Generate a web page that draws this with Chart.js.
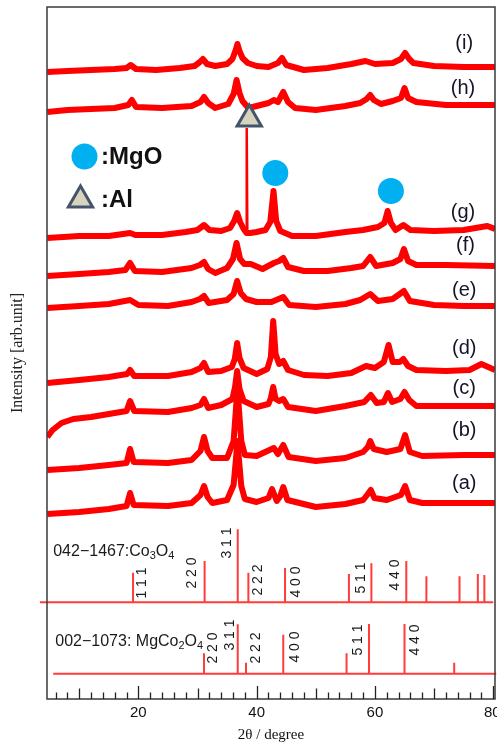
<!DOCTYPE html>
<html><head><meta charset="utf-8">
<script src="https://cdn.jsdelivr.net/npm/chart.js@4/dist/chart.umd.min.js"></script>
<style>html,body{margin:0;padding:0;background:#fff;overflow:hidden}#wrap{width:497px;height:743px;position:relative}</style>
</head><body><div id="wrap"><canvas id="c"></canvas></div>
<script>
// ---------- DATA (2θ in degrees, intensity in arb. units incl. stacking offset) ----------
const traceNames = ['(a)','(b)','(c)','(d)','(e)','(f)','(g)','(h)','(i)'];
const traceA = [[4.6,185],[10,187],[15,190],[18.0,193],[18.6,206],[19.2,194],[25,193],[29,196],[30.5,204],[31.1,213],[31.7,202],[32.5,196],[35,199],[36.1,214],[36.5,240],[36.75,258],[37.0,240],[37.4,213],[38,200],[40,197],[42.0,201],[42.6,210],[43.4,198],[44.0,203],[44.5,212],[45.2,199],[50,192],[55,195],[58,199],[58.8,205],[59.3,209],[59.9,201],[62,199],[64.4,204],[65.1,213],[65.9,199],[68,196],[75,196],[80.3,196]];
const traceB = [[4.6,229],[10,231],[15,234],[18.0,236],[18.6,250],[19.2,237],[25,236],[29,239],[30.5,248],[31.1,262],[31.7,248],[32.5,241],[35,241],[36.1,258],[36.5,290],[36.75,314],[37.0,290],[37.4,258],[38,244],[40,243],[42.9,251],[43.6,245],[44.5,254],[45.4,242],[50,238],[55,241],[58,247],[58.8,252],[59.2,258],[59.8,250],[62,247],[64.3,250],[65.1,264],[65.9,247],[68,243],[75,244],[80.3,244]];
const traceC = [[4.6,262],[5.5,269],[7,276],[9,280],[12,282],[16,286],[18.0,288],[18.6,298],[19.3,288],[25,287],[29,291],[30.5,294],[31.1,300],[31.8,291],[34,294],[35.9,300],[36.35,312],[36.7,328],[37.1,310],[37.8,298],[40,292],[42,295],[42.4,301],[42.8,312],[43.2,300],[43.8,298],[44.5,300],[45.3,292],[50,288],[55,293],[58.2,297],[59.3,304],[60.3,296],[61.5,297],[62.2,306],[62.9,297],[64.3,300],[65.0,307],[65.8,299],[67,293],[72,293],[80.3,293]];
const traceD = [[4.6,316],[10,319],[15,322],[18.1,325],[18.6,329],[19.3,323],[25,323],[29,327],[30.5,331],[31.1,336],[31.8,327],[34,328],[35.8,332],[36.3,340],[36.7,356],[37.1,341],[37.8,331],[40,325],[41.8,330],[42.4,342],[42.8,378],[43.2,345],[43.8,335],[44.5,338],[45.3,329],[48,324],[52,323],[56,326],[58.5,333],[60,331],[61.5,337],[62.3,354],[63.0,337],[64.2,337],[64.8,340],[65.6,333],[67,329],[72,328],[76,329],[78,335],[80.3,329]];
const traceE = [[4.6,391],[10,393],[15,395],[18.6,399],[20,394],[25,393],[29,397],[30.4,400],[31.1,403],[31.9,396],[35,399],[36.1,405],[36.7,418],[37.3,406],[38.2,400],[40,397],[42.5,397],[44.5,402],[45.5,394],[50,392],[55,395],[57.5,399],[59.2,405],[60.5,398],[63,400],[64.9,408],[65.9,398],[70,394],[75,393],[80.3,393]];
const traceF = [[4.6,423],[10,425],[15,427],[17.8,429],[18.6,436],[19.4,428],[24,427],[29,431],[30.4,434],[31.1,437],[31.8,430],[33,426],[35,431],[36.0,440],[36.6,456],[37.2,440],[37.9,435],[39,435],[41,430],[42.9,436],[43.8,438],[44.5,441],[45.3,432],[48,428],[52,428],[56,431],[58,433],[59.2,442],[60.2,433],[63,436],[64.3,440],[64.9,450],[65.6,438],[67,434],[72,434],[80.3,433]];
const traceG = [[4.6,461],[10,463],[15,463],[18.6,466],[19.5,464],[24,464],[28,467],[30,469],[31.1,474],[32,469],[34,468],[35.5,471],[36.2,478],[36.7,486],[37.2,477],[37.8,470],[38.3,466],[38.9,466],[40,467],[41.5,469],[42.3,477],[42.85,508],[43.3,478],[44,468],[46,463],[50,463],[55,467],[58,469],[60.5,472],[61.6,476],[62.15,488],[62.7,476],[63.5,469],[64.8,474],[66,469],[70,468],[75,469],[79,473],[80.3,470]];
const traceH = [[4.6,587],[8,589],[12,590],[16,591],[18.3,594],[18.9,599],[19.6,592],[24,591],[29,593],[30.5,597],[31.1,602],[31.8,596],[33,591],[35.2,595],[36.1,605],[36.6,619],[37.1,606],[37.6,598],[38.6,591],[40,593],[42,596],[42.9,599],[43.6,597],[44.5,607],[45.3,597],[46.5,591],[50,589],[55,593],[57.5,596],[58.6,600],[59.2,604],[59.8,599],[61,595],[63,598],[64.4,601],[65.0,611],[65.6,601],[67,597],[72,594],[80.3,594]];
const traceI = [[4.6,627],[8,628],[12,629],[16,630],[18.0,631],[18.7,634],[19.6,630],[23,629],[27,631],[29.5,633],[30.4,637],[30.9,640],[31.6,635],[33,633],[35,635],[35.9,640],[36.4,648],[36.75,655],[37.1,648],[37.6,641],[38.5,636],[40,633],[42,632],[43.6,636],[44.3,641],[45.0,634],[48,629],[52,631],[56,635],[58.4,638],[60,635],[63,636],[64.4,640],[65.1,646],[65.8,640],[66.5,636],[70,633],[75,632],[80.3,632]];
// Al reflection in trace (g)
const alPeakG = [[38.22,466],[38.32,571],[38.42,466]];

// Reference patterns
const co3o4Pos    = [19.1, 31.2, 36.8, 38.6, 44.8, 55.6, 59.4, 65.3, 68.7, 74.3, 77.4, 78.5];
const co3o4Int    = [29.6, 41.3, 73, 29.6, 34.4, 28.3, 39, 41.3, 26, 26, 28.3, 27.3];
const co3o4Base   = 96.7;
const co3o4Hkl    = ['1 1 1','2 2 0','3 1 1','2 2 2','4 0 0','5 1 1','4 4 0'];
const mgco2o4Pos  = [31.1, 36.8, 38.2, 44.5, 55.2, 59.0, 65.0, 73.4];
const mgco2o4Int  = [20.4, 49.4, 11, 39, 20.4, 49.7, 49.7, 11];
const mgco2o4Base = 25.3;
const mgco2o4Hkl  = ['2 2 0','3 1 1','2 2 2','4 0 0','5 1 1','4 4 0'];

// Phase markers
const mgoMarks = [[43.15,526],[62.7,508]];
const alMarks  = [[38.75,580]];

const xTicks = [20,40,60,80];

// ---------- annotation anchors (2θ, intensity) ----------
const traceLabelAt = [[75.1,216],[75.1,269],[75.1,311],[75.1,351],[75.1,409],[75.3,454],[74.9,487],[74.9,611],[75.1,656]];
const co3o4HklAt   = [[20.58,116],[29.09,126],[34.96,156],[40.25,119],[46.63,117],[57.68,121],[63.38,124]];
const mgHklAt      = [[32.64,51],[35.52,64],[39.92,51],[46.46,52],[57.17,59],[66.77,59]];

const toXY = arr => arr.map(p => ({x:p[0], y:p[1]}));
function sticks(pos, ints, base){
  const out = [];
  pos.forEach((p,i)=>{ out.push({x:p,y:base},{x:p,y:base+ints[i]},{x:p,y:null}); });
  return out;
}
const RED = '#ff0000';
const traces = [traceA,traceB,traceC,traceD,traceE,traceF,traceG,traceH,traceI];
const datasets = traces.map((t,i)=>({label:traceNames[i], data:toXY(t), borderColor:RED, borderWidth:6, pointRadius:0, tension:0, borderJoinStyle:'round', order:5}));
datasets.push({label:'Al (g)', data:toXY(alPeakG), borderColor:RED, borderWidth:2.5, pointRadius:0, order:5});
datasets.push({label:'Co3O4', data:sticks(co3o4Pos,co3o4Int,co3o4Base), borderColor:'#ff3b3b', borderWidth:2, pointRadius:0, spanGaps:false, order:4});
datasets.push({label:'Co3O4 base', data:[{x:3.35,y:co3o4Base},{x:80.0,y:co3o4Base}], borderColor:'#ff3b3b', borderWidth:2, pointRadius:0, clip:false, order:4});
datasets.push({label:'MgCo2O4', data:sticks(mgco2o4Pos,mgco2o4Int,mgco2o4Base), borderColor:'#ff3b3b', borderWidth:2, pointRadius:0, spanGaps:false, order:4});
datasets.push({label:'MgCo2O4 base', data:[{x:5.6,y:mgco2o4Base},{x:80.5,y:mgco2o4Base}], borderColor:'#ff3b3b', borderWidth:2, pointRadius:0, clip:false, order:4});
datasets.push({type:'scatter', label:'MgO', data:toXY(mgoMarks), showLine:false, pointStyle:'circle', pointRadius:13, backgroundColor:'#00b0f0', borderWidth:0, order:1, clip:false});
datasets.push({type:'scatter', label:'Al', data:toXY(alMarks), showLine:false, pointStyle:'triangle', pointRadius:14, backgroundColor:'#d8d3bf', borderColor:'#44546a', borderWidth:3, order:1, clip:false});

function subText(ctx, parts, x, y, size){
  let cx = x;
  parts.forEach(([t,sub])=>{
    ctx.font = (sub? Math.round(size*0.68) : size) + 'px "Liberation Sans"';
    ctx.fillText(t, cx, sub? y+4 : y);
    cx += ctx.measureText(t).width;
  });
}

const deco = {
  id:'deco',
  afterDatasetsDraw(chart){
    const ctx = chart.ctx, a = chart.chartArea, xs = chart.scales.x, ys = chart.scales.y;
    ctx.save();
    // frame
    ctx.strokeStyle = '#3a3a3a'; ctx.lineWidth = 1.5;
    ctx.strokeRect(a.left, a.top, a.right-a.left, a.bottom-a.top);
    // inward ticks
    ctx.strokeStyle = '#222'; ctx.lineWidth = 1.3;
    for(let v=6; v<=80; v+=2){
      const px = Math.round(xs.getPixelForValue(v))+0.5;
      const len = v%20===0 ? 13 : (v%10===0 ? 10.5 : 6.5);
      ctx.beginPath(); ctx.moveTo(px, a.bottom); ctx.lineTo(px, a.bottom-len); ctx.stroke();
    }
    // tick labels
    ctx.fillStyle = '#111'; ctx.font = '15px "Liberation Sans"';
    ctx.textAlign = 'center'; ctx.textBaseline = 'middle';
    xTicks.forEach(v => ctx.fillText(String(v), xs.getPixelForValue(v) - (v===80?1:0), a.bottom + 14));
    // hkl labels
    ctx.fillStyle = '#1a1a1a'; ctx.font = '14px "Liberation Sans"';
    const hkl = (list, at) => list.forEach((t,i)=>{
      ctx.save(); ctx.translate(xs.getPixelForValue(at[i][0]), ys.getPixelForValue(at[i][1]));
      ctx.rotate(-Math.PI/2); ctx.fillText(t,0,0); ctx.restore();
    });
    hkl(co3o4Hkl, co3o4HklAt); hkl(mgco2o4Hkl, mgHklAt);
    // reference card names
    ctx.textAlign = 'left'; ctx.textBaseline = 'middle'; ctx.fillStyle = '#1a1a1a';
    subText(ctx, [['042\u22121467:Co',0],['3',1],['O',0],['4',1]], xs.getPixelForValue(5.6), ys.getPixelForValue(147), 16);
    subText(ctx, [['002\u22121073: MgCo',0],['2',1],['O',0],['4',1]], xs.getPixelForValue(5.95), ys.getPixelForValue(57), 16);
    // trace labels
    ctx.font = '20px "Liberation Sans"'; ctx.textAlign = 'center'; ctx.fillStyle = '#141428';
    traceNames.forEach((n,i)=>{ ctx.fillText(n, xs.getPixelForValue(traceLabelAt[i][0]), ys.getPixelForValue(traceLabelAt[i][1])); });
    // legend
    const H = Chart.helpers;
    ctx.fillStyle = '#00b0f0';
    H.drawPoint(ctx, {pointStyle:'circle', radius:13, rotation:0, borderWidth:0}, 84.5, 156.5);
    ctx.fillStyle = '#d8d3bf'; ctx.strokeStyle = '#44546a'; ctx.lineWidth = 3;
    H.drawPoint(ctx, {pointStyle:'triangle', radius:14, rotation:0, borderWidth:3}, 80.5, 200);
    ctx.fillStyle = '#111'; ctx.font = 'bold 24px "Liberation Sans"'; ctx.textAlign = 'left';
    ctx.fillText(':MgO', 101, 157);
    ctx.fillText(':Al', 101, 200);
    ctx.restore();
  }
};

new Chart(document.getElementById('c'), {
  type:'line',
  data:{datasets},
  options:{
    responsive:true, maintainAspectRatio:false, animation:false,
    layout:{padding:{top:7,right:2,left:0,bottom:0}, autoPadding:false},
    plugins:{legend:{display:false}, tooltip:{enabled:false}},
    scales:{
      x:{type:'linear', min:4.55, max:80.3,
        afterBuildTicks: s => { s.ticks = xTicks.map(v=>({value:v})); },
        grid:{display:false, drawTicks:false}, border:{display:false},
        ticks:{display:false},
        title:{display:true, text:'2θ / degree', font:{family:'Liberation Serif', size:15, lineHeight:1}, color:'#111', padding:{top:0,bottom:0}},
        afterFit: s => { s.height = 44; }
      },
      y:{min:0, max:692, grid:{display:false}, border:{display:false}, ticks:{display:false},
        title:{display:true, text:'Intensity [arb.unit]', font:{family:'Liberation Serif', size:16}, color:'#222', padding:{top:8,bottom:0}},
        afterFit: s => { s.width = 47; }
      }
    }
  },
  plugins:[deco]
});
</script></body></html>
